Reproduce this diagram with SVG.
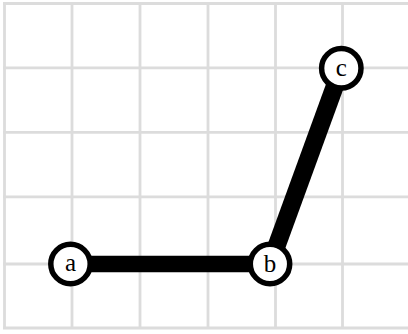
<svg xmlns="http://www.w3.org/2000/svg" width="408" height="334" viewBox="0 0 408 334">
<style>
.grid{stroke:#dcdcdc;stroke-width:2.8;fill:none}
.edge{stroke:#000;fill:none;stroke-linecap:butt}
.node circle{fill:#fff;stroke:#000;stroke-width:5.5}
.node text{font-family:"Liberation Serif","DejaVu Serif",serif;font-size:25px;text-anchor:middle;fill:#000}
</style>
<rect width="408" height="334" fill="#fff"/>
<g id="grid" class="grid">
<line x1="4.5" y1="3.5" x2="4.5" y2="328"/>
<line x1="72" y1="3.5" x2="72" y2="328"/>
<line x1="140" y1="3.5" x2="140" y2="328"/>
<line x1="208" y1="3.5" x2="208" y2="328"/>
<line x1="275.5" y1="3.5" x2="275.5" y2="328"/>
<line x1="342.5" y1="3.5" x2="342.5" y2="328"/>
<line x1="3" y1="3.5" x2="408" y2="3.5"/>
<line x1="3" y1="67.8" x2="408" y2="67.8"/>
<line x1="3" y1="132.3" x2="408" y2="132.3"/>
<line x1="3" y1="196.8" x2="408" y2="196.8"/>
<line x1="3" y1="264" x2="408" y2="264"/>
<line x1="3" y1="328" x2="408" y2="328"/>
</g>
<g id="connectors">
<line class="edge" x1="70.5" y1="264" x2="270" y2="264" stroke-width="16.5"/>
<line class="edge" x1="270" y1="264" x2="341.3" y2="68.3" stroke-width="18"/>
</g>
<g id="a" class="node"><circle cx="70.5" cy="264" r="19.7"/><text x="70.5" y="271">a</text></g>
<g id="b" class="node"><circle cx="270" cy="264" r="19.7"/><text x="270" y="272">b</text></g>
<g id="c" class="node"><circle cx="341.3" cy="68.3" r="19.7"/><text x="341.3" y="75.5">c</text></g>
</svg>
